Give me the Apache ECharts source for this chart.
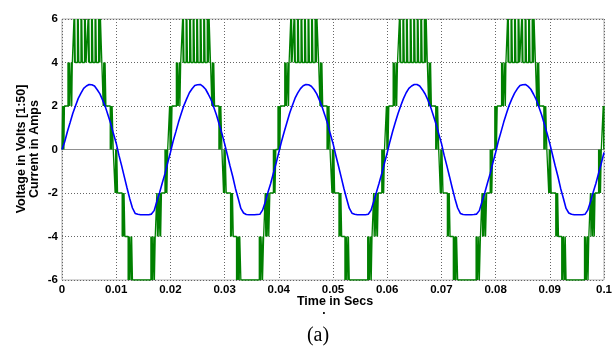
<!DOCTYPE html>
<html>
<head>
<meta charset="utf-8">
<script src="https://cdn.jsdelivr.net/npm/echarts@6/dist/echarts.min.js"></script>
<style>
html,body{margin:0;padding:0;background:#fff;}
#chart{width:615px;height:347px;}
</style>
</head>
<body>
<div id="chart"></div>
<script>
// x axis in milliseconds; tick labels shown in seconds
const xTickLabels = ['0','0.01','0.02','0.03','0.04','0.05','0.06','0.07','0.08','0.09','0.1'];
const yTickLabels = ['-6','-4','-2','0','2','4','6'];

// Blue current (A), sampled every 0.5 ms, one array per 20 ms cycle
const blueStepMs = 0.5;
const blueP1 = [0.00,0.36,0.83,1.24,1.67,2.01,2.35,2.59,2.81,2.92,2.99,2.98,2.92,2.75,2.56,2.27,1.96,1.57,1.18,0.72,0.29,-0.26,-0.74,-1.26,-1.77,-2.26,-2.69,-2.94,-2.98,-3.00,-3.00,-3.00,-3.00,-2.97,-2.81,-2.39,-1.99,-1.54,-1.11,-0.61];
const blueP2 = [-0.14,0.38,0.81,1.26,1.65,2.03,2.33,2.61,2.79,2.94,2.98,2.99,2.90,2.77,2.54,2.29,1.94,1.59,1.16,0.74,0.27,-0.24,-0.76,-1.24,-1.79,-2.24,-2.71,-2.92,-2.99,-3.00,-3.00,-3.00,-2.99,-2.98,-2.79,-2.41,-1.97,-1.56,-1.09,-0.63];
const blueP3 = [-0.13,0.37,0.82,1.24,1.67,2.02,2.36,2.60,2.80,2.93,2.99,2.98,2.91,2.76,2.56,2.27,1.95,1.58,1.18,0.72,0.28,-0.25,-0.75,-1.26,-1.78,-2.25,-2.70,-2.93,-2.98,-3.00,-3.00,-3.00,-3.00,-2.98,-2.80,-2.40,-1.98,-1.55,-1.10,-0.62];
const blueP4 = [-0.15,0.36,0.83,1.25,1.66,2.01,2.34,2.61,2.81,2.92,2.99,2.99,2.92,2.75,2.55,2.28,1.96,1.57,1.17,0.73,0.29,-0.26,-0.74,-1.25,-1.77,-2.26,-2.69,-2.94,-2.99,-3.00,-3.00,-3.00,-2.99,-2.97,-2.81,-2.39,-1.99,-1.54,-1.11,-0.61];
const blueP5 = [-0.14,0.38,0.81,1.26,1.65,2.03,2.33,2.59,2.79,2.94,2.98,2.99,2.90,2.77,2.54,2.29,1.94,1.59,1.16,0.74,0.27,-0.24,-0.76,-1.24,-1.79,-2.24,-2.71,-2.92,-2.98,-3.00,-3.00,-3.00,-3.00,-2.98,-2.79,-2.41,-1.97,-1.56,-1.09,-0.63];
const blueEnd = [-0.14];

// Green inverter voltage: [time ms, new level] switching events, one array per cycle
const greenP1 = [[0,0],[0.1,2],[0.2,0],[0.25,2],[0.35,0],[0.45,2],
[1.1,4],[1.2,2],[1.35,4],[1.45,2],[1.7,4],[1.8,2],[1.9,4],
[2.2,6],[2.3,4],[2.35,6],[2.45,4],
[2.85,6],[2.95,4],[3.0,6],[3.1,4],
[3.5,6],[3.6,4],[3.65,6],[3.75,4],
[4.15,6],[4.25,4],[4.3,6],[4.45,4],
[4.8,6],[4.9,4],[4.95,6],[5.05,4],
[5.45,6],[5.55,4],[5.6,6],[5.7,4],
[6.1,6],[6.2,4],[6.25,6],[6.35,4],
[6.75,6],[6.85,4],[6.9,6],[7.0,4],[7.1,6],[7.35,4],
[7.6,2],[7.7,4],[7.85,2],[7.95,4],[8.1,2],
[8.9,0],[9.0,2],[9.15,0],[9.25,2],[9.45,0],
[9.8,-2],[9.9,0],[10.0,-2],[10.1,0],[10.25,-2],
[11.1,-4],[11.2,-2],[11.35,-4],[11.45,-2],[11.6,-4],
[12.2,-6],[12.3,-4],[12.45,-6],[12.55,-4],[12.75,-6],[12.85,-4],[13.0,-6],
[16.4,-4],[16.5,-6],[16.65,-4],[16.75,-6],[16.95,-4],[17.05,-6],[17.2,-4],
[17.5,-2],[17.6,-4],[17.8,-2],[17.9,-4],[18.1,-2],[18.2,-4],[18.35,-2],
[19.0,0],[19.1,-2],[19.25,0],[19.35,-2],[19.5,0]];
const greenP2 = [[19.85,2],[19.95,0],[20.05,2],[20.15,0],[20.3,2],
[21.1,4],[21.2,2],[21.3,4],[21.45,2],[21.65,4],[21.75,2],[21.9,4],
[22.25,6],[22.35,4],[22.4,6],[22.5,4],
[22.9,6],[23.0,4],[23.05,6],[23.15,4],
[23.55,6],[23.65,4],[23.7,6],[23.8,4],
[24.2,6],[24.3,4],[24.35,6],[24.45,4],
[24.85,6],[24.95,4],[25.0,6],[25.1,4],
[25.5,6],[25.6,4],[25.65,6],[25.75,4],
[26.15,6],[26.25,4],[26.3,6],[26.4,4],
[26.8,6],[26.9,4],[26.95,6],[27.05,4],[27.15,6],[27.4,4],
[27.65,2],[27.75,4],[27.9,2],[28.0,4],[28.15,2],
[28.95,0],[29.05,2],[29.2,0],[29.3,2],[29.5,0],
[29.8,-2],[29.9,0],[30.0,-2],[30.1,0],[30.3,-2],
[31.1,-4],[31.2,-2],[31.3,-4],[31.45,-2],[31.6,-4],
[32.2,-6],[32.3,-4],[32.45,-6],[32.55,-4],[32.7,-6],[32.8,-4],[33.0,-6],
[36.4,-4],[36.5,-6],[36.6,-4],[36.7,-6],[36.9,-4],[37.0,-6],[37.2,-4],
[37.5,-2],[37.6,-4],[37.75,-2],[37.85,-4],[38.05,-2],[38.15,-4],[38.35,-2],
[39.0,0],[39.1,-2],[39.2,0],[39.3,-2],[39.45,0]];
const greenP3 = [[39.85,2],[39.95,0],[40.05,2],[40.2,0],[40.3,2],
[41.1,4],[41.2,2],[41.35,4],[41.45,2],[41.7,4],[41.8,2],[41.9,4],
[42.2,6],[42.3,4],[42.35,6],[42.45,4],
[42.8,6],[42.9,4],[42.95,6],[43.05,4],
[43.45,6],[43.55,4],[43.6,6],[43.7,4],
[44.1,6],[44.2,4],[44.25,6],[44.35,4],
[44.75,6],[44.85,4],[44.9,6],[45.0,4],
[45.4,6],[45.5,4],[45.55,6],[45.65,4],
[46.05,6],[46.15,4],[46.2,6],[46.3,4],
[46.7,6],[46.8,4],[46.85,6],[46.95,4],[47.05,6],[47.35,4],
[47.6,2],[47.7,4],[47.85,2],[47.95,4],[48.1,2],
[48.9,0],[49.0,2],[49.15,0],[49.25,2],[49.45,0],
[49.8,-2],[49.9,0],[50.05,-2],[50.15,0],[50.3,-2],
[51.1,-4],[51.2,-2],[51.35,-4],[51.45,-2],[51.6,-4],
[52.2,-6],[52.3,-4],[52.45,-6],[52.55,-4],[52.75,-6],[52.85,-4],[53.0,-6],
[56.4,-4],[56.5,-6],[56.65,-4],[56.75,-6],[56.95,-4],[57.05,-6],[57.2,-4],
[57.5,-2],[57.6,-4],[57.8,-2],[57.9,-4],[58.1,-2],[58.2,-4],[58.35,-2],
[59.0,0],[59.1,-2],[59.25,0],[59.35,-2],[59.5,0]];
const greenP4 = [[59.85,2],[59.95,0],[60.05,2],[60.15,0],[60.3,2],
[61.1,4],[61.2,2],[61.3,4],[61.45,2],[61.65,4],[61.75,2],[61.9,4],
[62.25,6],[62.35,4],[62.4,6],[62.5,4],
[62.9,6],[63.0,4],[63.05,6],[63.15,4],
[63.55,6],[63.65,4],[63.7,6],[63.8,4],
[64.25,6],[64.35,4],[64.4,6],[64.5,4],
[64.9,6],[65.0,4],[65.05,6],[65.15,4],
[65.55,6],[65.65,4],[65.7,6],[65.8,4],
[66.2,6],[66.3,4],[66.35,6],[66.45,4],
[66.85,6],[66.95,4],[67.0,6],[67.1,4],[67.2,6],[67.4,4],
[67.65,2],[67.75,4],[67.9,2],[68.0,4],[68.15,2],
[68.95,0],[69.05,2],[69.2,0],[69.3,2],[69.5,0],
[69.8,-2],[69.9,0],[70.0,-2],[70.1,0],[70.3,-2],
[71.1,-4],[71.2,-2],[71.3,-4],[71.45,-2],[71.6,-4],
[72.2,-6],[72.3,-4],[72.45,-6],[72.55,-4],[72.7,-6],[72.8,-4],[73.0,-6],
[76.4,-4],[76.5,-6],[76.6,-4],[76.7,-6],[76.9,-4],[77.0,-6],[77.2,-4],
[77.5,-2],[77.6,-4],[77.75,-2],[77.85,-4],[78.05,-2],[78.15,-4],[78.35,-2],
[79.0,0],[79.1,-2],[79.2,0],[79.3,-2],[79.45,0]];
const greenP5 = [[79.85,2],[79.95,0],[80.05,2],[80.15,0],[80.3,2],
[81.1,4],[81.2,2],[81.35,4],[81.45,2],[81.7,4],[81.8,2],[81.9,4],
[82.2,6],[82.3,4],[82.35,6],[82.45,4],
[82.85,6],[82.95,4],[83.0,6],[83.1,4],
[83.5,6],[83.6,4],[83.65,6],[83.75,4],
[84.15,6],[84.25,4],[84.3,6],[84.45,4],
[84.8,6],[84.9,4],[84.95,6],[85.05,4],
[85.45,6],[85.55,4],[85.6,6],[85.7,4],
[86.1,6],[86.2,4],[86.25,6],[86.35,4],
[86.75,6],[86.85,4],[86.9,6],[87.0,4],[87.1,6],[87.35,4],
[87.6,2],[87.7,4],[87.85,2],[87.95,4],[88.1,2],
[88.9,0],[89.0,2],[89.15,0],[89.25,2],[89.45,0],
[89.8,-2],[89.9,0],[90.0,-2],[90.1,0],[90.25,-2],
[91.1,-4],[91.2,-2],[91.35,-4],[91.45,-2],[91.6,-4],
[92.2,-6],[92.3,-4],[92.45,-6],[92.55,-4],[92.75,-6],[92.85,-4],[93.0,-6],
[96.4,-4],[96.5,-6],[96.65,-4],[96.75,-6],[96.95,-4],[97.05,-6],[97.2,-4],
[97.5,-2],[97.6,-4],[97.8,-2],[97.9,-4],[98.1,-2],[98.2,-4],[98.35,-2],
[99.0,0],[99.1,-2],[99.25,0],[99.35,-2],[99.5,0],
[99.85,2],[99.95,0],[100,2]];

const blueValues = [].concat(blueP1, blueP2, blueP3, blueP4, blueP5, blueEnd);
const blueData = blueValues.map((v, i) => [i * blueStepMs, v]);

// Build the staircase: each switching event gives a vertical edge at its time
const greenEvents = [].concat(greenP1, greenP2, greenP3, greenP4, greenP5);
const greenData = [];
let prevLevel = null;
greenEvents.forEach(([t, v]) => {
  if (prevLevel !== null) greenData.push([t, prevLevel]);
  greenData.push([t, v]);
  prevLevel = v;
});

const FONT = '"Liberation Sans", Arial, sans-serif';
const chart = echarts.init(document.getElementById('chart'), null, {renderer: 'canvas'});
chart.setOption({
  animation: false,
  backgroundColor: '#ffffff',
  grid: {left: 62, right: 5, top: 19, bottom: 67, show: true, borderColor: '#b0b0b0', borderWidth: 1, containLabel: false},
  xAxis: {
    type: 'value', min: 0, max: 100, interval: 10,
    axisLine: {show: true, lineStyle: {color: '#909090', width: 1}},
    axisTick: {show: false},
    axisLabel: {color: '#000', fontFamily: FONT, fontWeight: 'bold', fontSize: 11.5, margin: 4,
      hideOverlap: false, formatter: v => xTickLabels[Math.round(v / 10)]},
    splitLine: {show: true, lineStyle: {color: '#666', width: 1, type: [1, 2]}}
  },
  yAxis: {
    type: 'value', min: -6, max: 6, interval: 2,
    axisLine: {show: false},
    axisTick: {show: false},
    axisLabel: {color: '#000', fontFamily: FONT, fontWeight: 'bold', fontSize: 11.5, margin: 4,
      formatter: v => yTickLabels[Math.round((v + 6) / 2)]},
    splitLine: {show: true, lineStyle: {color: '#666', width: 1, type: [1, 2]}}
  },
  series: [
    {type: 'line', name: 'Voltage', data: greenData, showSymbol: false, symbol: 'none',
      lineStyle: {color: '#008000', width: 1.3, join: 'bevel'}, z: 2},
    {type: 'line', name: 'Current', data: blueData, showSymbol: false, symbol: 'none',
      lineStyle: {color: '#0000ff', width: 1.6}, z: 3}
  ],
  graphic: [
    {type: 'text', x: 28, y: 149, rotation: Math.PI / 2,
      style: {text: 'Voltage in Volts [1:50]\nCurrent in Amps', fontFamily: FONT, fontWeight: 'bold', fontSize: 12.5,
        lineHeight: 13, align: 'center', verticalAlign: 'middle', fill: '#000'}},
    {type: 'text', x: 335, y: 302,
      style: {text: 'Time in Secs', fontFamily: FONT, fontWeight: 'bold', fontSize: 12.5,
        align: 'center', verticalAlign: 'middle', fill: '#000'}},
    {type: 'text', x: 324, y: 311,
      style: {text: '.', fontFamily: FONT, fontWeight: 'bold', fontSize: 12,
        align: 'center', verticalAlign: 'middle', fill: '#000'}},
    {type: 'text', x: 318, y: 336,
      style: {text: '(a)', fontFamily: '"Liberation Serif", "Times New Roman", serif', fontSize: 20,
        align: 'center', verticalAlign: 'middle', fill: '#000'}}
  ]
});
</script>
</body>
</html>
